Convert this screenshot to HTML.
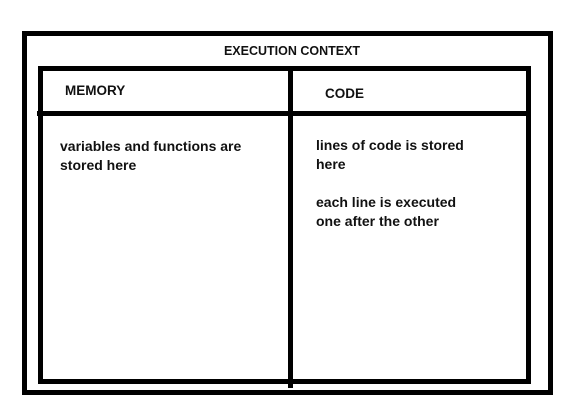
<!DOCTYPE html>
<html><head><style>
body{margin:0;width:584px;height:420px;background:#fff;position:relative;font-family:"Liberation Sans",sans-serif;overflow:hidden}
div{position:absolute;box-sizing:border-box}
.t{font-size:14px;font-weight:bold;color:#111;line-height:19px}
</style></head><body>
<div style="left:22px;top:31px;width:531px;height:364px;border:5px solid #000"></div>
<div style="left:38px;top:66px;width:493px;height:318px;border:5px solid #000"></div>
<div style="left:37px;top:111px;width:494px;height:5px;background:#000"></div>
<div style="left:288px;top:68px;width:5px;height:320px;background:#000"></div>
<div class="t" style="left:0;width:584px;text-align:center;top:42px;font-size:12.5px">EXECUTION CONTEXT</div>
<div class="t" style="left:65px;top:81px;font-size:13.5px">MEMORY</div>
<div class="t" style="left:325px;top:84px;font-size:13.5px">CODE</div>
<div class="t" style="left:60px;top:137px">variables and functions are<br>stored here</div>
<div class="t" style="left:316px;top:136px">lines of code is stored<br>here</div>
<div class="t" style="left:316px;top:193px">each line is executed<br>one after the other</div>
</body></html>
